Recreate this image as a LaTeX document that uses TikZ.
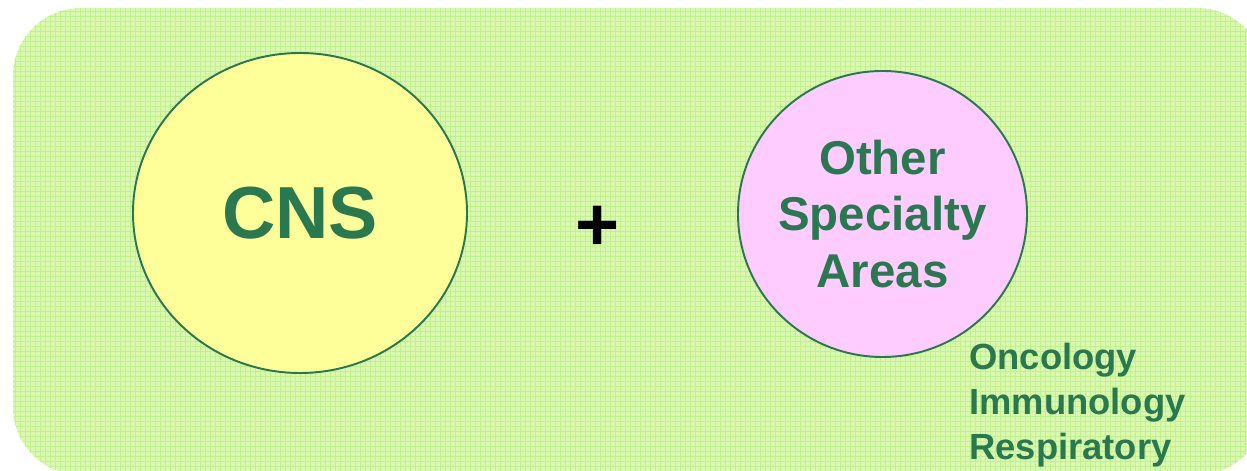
\documentclass[tikz,border=0pt]{standalone}
\usepackage{fontspec}
\setmainfont{Liberation Sans}
\usetikzlibrary{shapes.geometric}

\definecolor{paper}{RGB}{218,248,178}
\definecolor{paperline}{RGB}{176,238,110}
\definecolor{darkgreen}{RGB}{40,120,80}
\definecolor{paleyellow}{RGB}{255,255,153}
\definecolor{palepink}{RGB}{255,204,255}

\tikzset{
  area/.style={ellipse,draw=darkgreen,line width=1.1pt,text=darkgreen,
    font=\bfseries,inner sep=0pt},
  label/.style={text=darkgreen,font=\bfseries,inner sep=0pt}
}

\begin{document}
\begin{tikzpicture}
                \clip (0,0) rectangle (24.94,9.42);
                % graph paper panel
                \fill[paper,rounded corners=1.36cm] (0.26,-0.08) rectangle (25.3,9.26);
                \begin{scope}
                  \clip[rounded corners=1.36cm] (0.26,-0.08) rectangle (25.3,9.26);
                  \draw[paperline,line width=0.3pt,opacity=0.6,step=0.1] (0,0) grid (24.94,9.42);
                \end{scope}
                \node[area,fill=paleyellow,minimum width=6.68cm,minimum height=6.4cm,
                  font=\bfseries\fontsize{42}{50}\selectfont] (cns) at (6.0,5.16) {CNS};
                \node[font=\bfseries\fontsize{43}{50}\selectfont,inner sep=0pt] (plus) at (11.96,4.86) {+};
                \node[area,fill=palepink,minimum width=5.78cm,minimum height=5.72cm] (other) at (17.65,5.14) {};
                \node[label,align=center,font=\bfseries\fontsize{27}{32.4}\selectfont]
                  (othertext) at (other.center) {Other\\Specialty\\Areas};
                \node[label,anchor=west,align=left,font=\bfseries\fontsize{20.7}{25.6}\selectfont]
                  (list) at (19.38,1.32) {Oncology\\Immunology\\Respiratory};
            \end{tikzpicture}
\end{document}
